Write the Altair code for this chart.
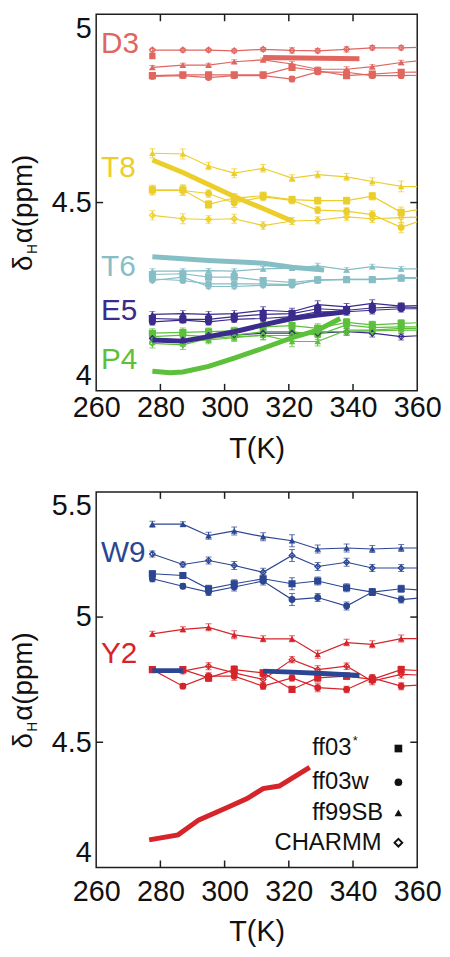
import altair as alt
import pandas as pd

# ---------------- data ----------------
T = [277.5, 287, 295, 303, 312, 321, 329, 338, 346, 355, 364]
FORCE_FIELDS = ["ff03*", "ff03w", "ff99SB", "CHARMM"]
SHAPES = ["square", "circle", "triangle-up", "diamond"]
RESIDUES = ["D3", "T8", "T6", "E5", "P4", "W9", "Y2"]
COLORS = ["#e0665f", "#ecce2b", "#86bec6", "#3a2b8c", "#5cc03a", "#2b4693", "#d6242b"]
XLABELS = [260, 280, 300, 320, 340, 360]
XTICKS_INNER = [280, 300, 320, 340]

# top panel (ppm)
D3_ff03s = [4.837, 4.839, 4.839, 4.839, 4.839, 4.859, 4.850, 4.837, 4.841, 4.846, 4.847]
D3_ff03w = [4.835, 4.837, 4.832, 4.837, 4.837, 4.828, 4.847, 4.846, 4.837, 4.837, 4.839]
D3_ff99sb = [4.859, 4.865, 4.865, 4.874, 4.879, 4.868, 4.854, 4.854, 4.861, 4.872, 4.879]
D3_charmm = [4.905, 4.905, 4.905, 4.903, 4.907, 4.904, 4.903, 4.907, 4.911, 4.911, 4.913]
T8_ff03s = [4.534, 4.534, 4.495, 4.512, 4.518, 4.508, 4.505, 4.505, 4.517, 4.474, 4.486]
T8_ff03w = [4.532, 4.532, 4.524, 4.499, 4.515, 4.506, 4.480, 4.477, 4.468, 4.434, 4.460]
T8_ff99sb = [4.631, 4.629, 4.597, 4.578, 4.591, 4.565, 4.574, 4.568, 4.556, 4.543, 4.542]
T8_charmm = [4.466, 4.457, 4.455, 4.457, 4.439, 4.451, 4.453, 4.462, 4.457, 4.460, 4.462]
T6_ff03s = [4.309, 4.311, 4.302, 4.302, 4.293, 4.288, 4.295, 4.295, 4.295, 4.299, 4.299]
T6_ff03w = [4.297, 4.293, 4.284, 4.284, 4.284, 4.282, 4.293, 4.296, 4.296, 4.299, 4.299]
T6_ff99sb = [4.318, 4.318, 4.319, 4.318, 4.324, 4.326, 4.332, 4.321, 4.330, 4.324, 4.324]
T6_charmm = [4.293, 4.302, 4.277, 4.277, 4.280, 4.280, 4.295, 4.296, 4.296, 4.301, 4.301]
E5_ff03s = [4.192, 4.190, 4.190, 4.197, 4.203, 4.205, 4.218, 4.214, 4.220, 4.223, 4.220]
E5_ff03w = [4.183, 4.188, 4.183, 4.190, 4.192, 4.197, 4.210, 4.210, 4.214, 4.218, 4.218]
E5_ff99sb = [4.203, 4.205, 4.203, 4.205, 4.214, 4.210, 4.229, 4.223, 4.232, 4.225, 4.227]
E5_charmm = [4.139, 4.135, 4.147, 4.148, 4.153, 4.153, 4.153, 4.157, 4.153, 4.144, 4.148]
P4_ff03s = [4.153, 4.155, 4.157, 4.159, 4.170, 4.173, 4.166, 4.182, 4.175, 4.179, 4.182]
P4_ff03w = [4.144, 4.148, 4.144, 4.148, 4.157, 4.157, 4.148, 4.175, 4.168, 4.170, 4.170]
P4_ff99sb = [4.135, 4.131, 4.135, 4.141, 4.148, 4.131, 4.131, 4.161, 4.161, 4.166, 4.166]
P4_charmm = [4.126, 4.122, 4.139, 4.144, 4.147, 4.147, 4.157, 4.157, 4.159, 4.161, 4.161]

# bottom panel (ppm)
W9_ff03s = [5.173, 5.166, 5.113, 5.133, 5.153, 5.133, 5.144, 5.117, 5.100, 5.113, 5.105]
W9_ff03w = [5.153, 5.123, 5.100, 5.120, 5.144, 5.070, 5.078, 5.044, 5.100, 5.070, 5.080]
W9_ff99sb = [5.371, 5.371, 5.325, 5.344, 5.321, 5.305, 5.272, 5.276, 5.272, 5.276, 5.276]
W9_charmm = [5.252, 5.210, 5.226, 5.206, 5.179, 5.246, 5.202, 5.219, 5.196, 5.196, 5.196]
Y2_ff03s = [4.790, 4.790, 4.757, 4.790, 4.777, 4.711, 4.757, 4.764, 4.751, 4.790, 4.784]
Y2_ff03w = [4.790, 4.724, 4.764, 4.764, 4.724, 4.757, 4.718, 4.711, 4.757, 4.724, 4.731]
Y2_ff99sb = [4.933, 4.951, 4.959, 4.929, 4.913, 4.913, 4.851, 4.898, 4.891, 4.914, 4.914]
Y2_charmm = [4.790, 4.784, 4.804, 4.777, 4.751, 4.830, 4.790, 4.804, 4.744, 4.771, 4.767]

# error half-widths (ppm)
D3_err = [0.005, 0.005, 0.005, 0.005, 0.005, 0.007, 0.006, 0.007, 0.006, 0.006, 0.006]
T8_err = [0.012, 0.013, 0.010, 0.012, 0.010, 0.009, 0.009, 0.009, 0.010, 0.014, 0.012]
T6_err = [0.006, 0.006, 0.006, 0.006, 0.006, 0.006, 0.007, 0.006, 0.006, 0.006, 0.006]
E5_err = [0.008, 0.008, 0.008, 0.008, 0.009, 0.009, 0.010, 0.009, 0.010, 0.009, 0.009]
P4_err = [0.012, 0.012, 0.010, 0.010, 0.012, 0.014, 0.012, 0.010, 0.010, 0.010, 0.010]
W9_err = [0.012, 0.010, 0.014, 0.016, 0.016, 0.024, 0.016, 0.016, 0.014, 0.014, 0.014]
Y2_err = [0.010, 0.010, 0.014, 0.016, 0.012, 0.012, 0.016, 0.013, 0.014, 0.014, 0.014]

# experiment-like thick lines
D3_exp_T = [312, 342]
D3_exp_v = [4.885, 4.882]
D3_exp_pt_T = [277.5]
D3_exp_pt_v = [4.889]
T8_exp_T = [277.5, 287, 295, 303, 312, 321]
T8_exp_v = [4.613, 4.580, 4.548, 4.516, 4.484, 4.451]
T6_exp_T = [277.5, 295, 312, 321, 331]
T6_exp_v = [4.356, 4.346, 4.339, 4.328, 4.321]
E5_exp_T = [277.5, 287, 295, 303, 312, 321, 329, 338]
E5_exp_v = [4.135, 4.132, 4.144, 4.157, 4.175, 4.192, 4.201, 4.210]
P4_exp_T = [277.5, 283, 287, 295, 303, 312, 321, 329, 336]
P4_exp_v = [4.052, 4.048, 4.050, 4.065, 4.087, 4.113, 4.141, 4.161, 4.192]
W9_exp1_T = [277.5, 287]
W9_exp1_v = [4.786, 4.786]
W9_exp2_T = [312, 321, 329, 338, 342]
W9_exp2_v = [4.784, 4.780, 4.776, 4.770, 4.767]
Y2_exp_T = [276.5, 285.5, 292, 301, 307, 312, 317, 326.5]
Y2_exp_v = [4.11, 4.13, 4.19, 4.24, 4.275, 4.315, 4.325, 4.40]

# residue labels
TOP_LABELS = ["D3", "T8", "T6", "E5", "P4"]
TOP_LABEL_V = [4.921, 4.592, 4.329, 4.211, 4.082]
BOT_LABELS = ["W9", "Y2"]
BOT_LABEL_V = [5.255, 4.851]
LABEL_T = 261.5

# ---------------- build tables ----------------
SIM = {
    "top": {
        "D3": ([D3_ff03s, D3_ff03w, D3_ff99sb, D3_charmm], D3_err),
        "T8": ([T8_ff03s, T8_ff03w, T8_ff99sb, T8_charmm], T8_err),
        "T6": ([T6_ff03s, T6_ff03w, T6_ff99sb, T6_charmm], T6_err),
        "E5": ([E5_ff03s, E5_ff03w, E5_ff99sb, E5_charmm], E5_err),
        "P4": ([P4_ff03s, P4_ff03w, P4_ff99sb, P4_charmm], P4_err),
    },
    "bottom": {
        "W9": ([W9_ff03s, W9_ff03w, W9_ff99sb, W9_charmm], W9_err),
        "Y2": ([Y2_ff03s, Y2_ff03w, Y2_ff99sb, Y2_charmm], Y2_err),
    },
}
EXP = {
    "top": [("D3", "a", D3_exp_T, D3_exp_v), ("T8", "a", T8_exp_T, T8_exp_v),
            ("T6", "a", T6_exp_T, T6_exp_v), ("E5", "a", E5_exp_T, E5_exp_v),
            ("P4", "a", P4_exp_T, P4_exp_v)],
    "bottom": [("W9", "a", W9_exp1_T, W9_exp1_v), ("W9", "b", W9_exp2_T, W9_exp2_v),
               ("Y2", "a", Y2_exp_T, Y2_exp_v)],
}


def sim_tables(panel):
    rows, caps = [], []
    for res, (series, err) in SIM[panel].items():
        for ff, vals in zip(FORCE_FIELDS, series):
            for t, v, e in zip(T, vals, err):
                rows.append(dict(res=res, ff=ff, T=t, v=v, lo=v - e, hi=v + e))
                caps.append(dict(res=res, T=t, v=v - e))
                caps.append(dict(res=res, T=t, v=v + e))
    return pd.DataFrame(rows), pd.DataFrame(caps)


def exp_table(panel):
    rows = []
    for res, seg, ts, vs in EXP[panel]:
        for t, v in zip(ts, vs):
            rows.append(dict(res=res, seg=res + seg, T=t, v=v))
    return pd.DataFrame(rows)


FONT = "Liberation Sans"
AXC = "#1e1e1e"
color = alt.Color("res:N", scale=alt.Scale(domain=RESIDUES, range=COLORS), legend=None)
shape = alt.Shape("ff:N", scale=alt.Scale(domain=FORCE_FIELDS, range=SHAPES), legend=None)
msize = alt.Size("ff:O", scale=alt.Scale(domain=FORCE_FIELDS, range=[52, 40, 30, 30]), legend=None)


def panel(name, ydom, yvals, inner_y, W, H, xlab_pad, labels, label_v, legend=False):
    sim, caps = sim_tables(name)
    exp = exp_table(name)
    X = alt.X("T:Q", scale=alt.Scale(domain=[260, 360], nice=False, zero=False),
              axis=alt.Axis(values=XLABELS, labelFlush=False, labelPadding=xlab_pad,
                            title="T(K)", titlePadding=12))
    Y = alt.Y("v:Q", scale=alt.Scale(domain=ydom, nice=False, zero=False),
              axis=alt.Axis(values=yvals, format=".1~f", labelFlush=True, labelPadding=5,
                            title=None))
    base = alt.Chart(sim)
    lines = base.mark_line(strokeWidth=1.2, clip=True).encode(X, Y, color=color, detail="ff:N")
    bars = base.mark_rule(strokeWidth=1, clip=True).encode(
        x="T:Q", y="lo:Q", y2="hi:Q", color=color)
    capm = alt.Chart(caps).mark_tick(orient="horizontal", size=6, thickness=1, clip=True).encode(
        x="T:Q", y="v:Q", color=color)
    filled = base.transform_filter(alt.datum.ff != "CHARMM").mark_point(
        filled=True, opacity=1, clip=True).encode(
        x="T:Q", y="v:Q", color=color, shape=shape, size=msize)
    opened = base.transform_filter(alt.datum.ff == "CHARMM").mark_point(
        filled=False, size=32, strokeWidth=1.3, opacity=1, clip=True, shape="diamond").encode(
        x="T:Q", y="v:Q", color=color)
    thick = alt.Chart(exp).mark_line(strokeWidth=5, clip=True).encode(
        x="T:Q", y="v:Q", color=color, detail="seg:N")
    layers = [lines, bars, capm, filled, opened, thick]
    if name == "top":
        pt = pd.DataFrame({"T": D3_exp_pt_T, "v": D3_exp_pt_v, "res": ["D3"]})
        layers.append(alt.Chart(pt).mark_point(shape="square", filled=True, size=40, opacity=1).encode(
            x="T:Q", y="v:Q", color=color))
    lab = pd.DataFrame({"res": labels, "v": label_v, "T": [LABEL_T] * len(labels)})
    layers.append(alt.Chart(lab).mark_text(align="left", baseline="middle", fontSize=30, font=FONT).encode(
        x="T:Q", y="v:Q", text="res:N", color=color))
    # inward ticks
    xt = alt.Chart(pd.DataFrame({"T": XTICKS_INNER})).mark_rule(color=AXC, strokeWidth=1.5)
    layers.append(xt.encode(x="T:Q", y=alt.value(H), y2=alt.value(H - 7)))
    layers.append(xt.encode(x="T:Q", y=alt.value(0), y2=alt.value(7)))
    yt = alt.Chart(pd.DataFrame({"v": inner_y})).mark_rule(color=AXC, strokeWidth=1.5)
    layers.append(yt.encode(y="v:Q", x=alt.value(0), x2=alt.value(7)))
    layers.append(yt.encode(y="v:Q", x=alt.value(W - 7), x2=alt.value(W)))
    one = pd.DataFrame({"a": [0]})
    # invisible spacer reserving room on the left for the rotated title
    layers.append(alt.Chart(one).mark_rule(opacity=0, strokeOpacity=0).encode(
        x=alt.value(-88), x2=alt.value(-87), y=alt.value(H / 2)))
    # y title: delta_H alpha (ppm)
    layers.append(alt.Chart(one).mark_text(text="δ", angle=270, align="left", baseline="alphabetic",
                                           fontSize=28, font=FONT, color="#111").encode(
        x=alt.value(-65), y=alt.value(259)))
    layers.append(alt.Chart(one).mark_text(text="H", angle=270, align="left", baseline="alphabetic",
                                           fontSize=14, font=FONT, color="#111").encode(
        x=alt.value(-60), y=alt.value(242)))
    layers.append(alt.Chart(one).mark_text(text="α(ppm)", angle=270, align="left", baseline="alphabetic",
                                           fontSize=28, font=FONT, color="#111").encode(
        x=alt.value(-65), y=alt.value(231)))
    if legend:
        items = [("ff03", 218, 259, "square", True), ("ff03w", 218, 293, "circle", True),
                 ("ff99SB", 218, 324, "triangle-up", True), ("CHARMM", 180, 354, "diamond", False)]
        for txt, lx, ly, shp, fill in items:
            layers.append(alt.Chart(one).mark_text(text=txt, align="left", baseline="middle",
                                                   fontSize=24, font=FONT, color="#111").encode(
                x=alt.value(lx), y=alt.value(ly)))
            layers.append(alt.Chart(one).mark_point(shape=shp, filled=fill, size=60, opacity=1,
                                                    strokeWidth=2, color="#111").encode(
                x=alt.value(305), y=alt.value(ly)))
        layers.append(alt.Chart(one).mark_text(text="*", align="left", baseline="middle",
                                               fontSize=13, font=FONT, color="#111").encode(
            x=alt.value(259), y=alt.value(251)))
    return alt.layer(*layers).properties(width=W, height=H)


top = panel("top", [4, 5], [4, 4.5, 5], [4.5], 324, 380, 3, TOP_LABELS, TOP_LABEL_V)
bottom = panel("bottom", [4, 5.5], [4, 4.5, 5, 5.5], [4.5, 5], 324, 379, 10,
               BOT_LABELS, BOT_LABEL_V, legend=True)

chart = alt.vconcat(top, bottom, spacing=26).properties(
    padding={"left": 0, "top": 0, "right": 0, "bottom": 0}
).configure_view(stroke=AXC, strokeWidth=1.5).configure_axis(
    labelFont=FONT, labelFontSize=29, labelColor="#111", titleFont=FONT, titleFontSize=29,
    titleFontWeight="normal", titleColor="#111", domain=False, ticks=False, grid=False
)

chart.save("out.html", embed_options={"renderer": "svg", "actions": False})
